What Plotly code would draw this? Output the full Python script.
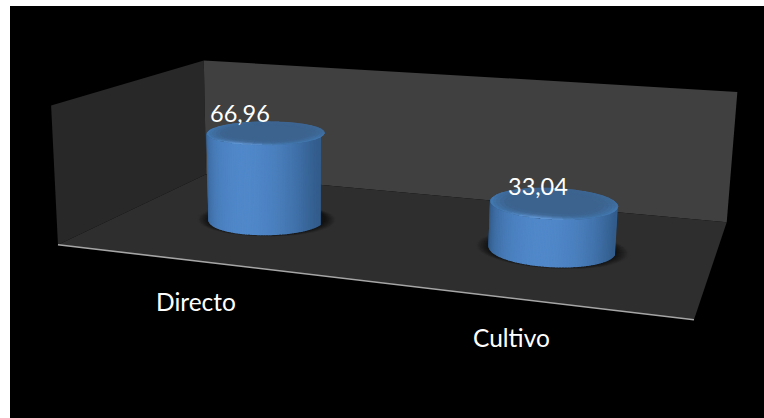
import numpy as np
import plotly.graph_objects as go

# ---- chart data ----
categories = ["Directo", "Cultivo"]
values = [66.96, 33.04]
value_labels = ["66,96", "33,04"]
axis_max = 100.0

# ---- label offsets in pixels ----
value_dx = [-26, -16]
value_dy = [20, 17]
cat_dx = [-1, -1]
cat_dy = [-40, -39]

# ---- 3D box -> page projection (fitted on the box corners of the picture) ----
box_world = [(0,0,1),(0,1,1),(0,1,0),(0,0,0),(1,1,1),(1,1,0),(1,0,0)]
box_page = [(50,106),(205,60),(205,175),(59,244),(737,92),(727,222),(694,320)]

def fit_camera(world, page):
    A = []
    for (x,y,z),(u,v) in zip(world,page):
        A.append([x,y,z,1,0,0,0,0,-u*x,-u*y,-u*z,-u])
        A.append([0,0,0,0,x,y,z,1,-v*x,-v*y,-v*z,-v])
    return np.linalg.svd(np.array(A,float))[2][-1].reshape(3,4)

P = fit_camera(box_world, box_page)

def pr(x,y,z):
    q = P @ np.array([x,y,z,1.0])
    return q[0]/q[2], q[1]/q[2]

fig = go.Figure()

def poly(points, color, lw=1.0):
    xs = [p[0] for p in points]+[points[0][0]]
    ys = [p[1] for p in points]+[points[0][1]]
    fig.add_trace(go.Scatter(x=xs,y=ys,mode="lines",fill="toself",fillcolor=color,
                             line=dict(color=color,width=lw),hoverinfo="skip",showlegend=False))

def rgb(c):
    return "rgb(%d,%d,%d)"%tuple(int(round(v)) for v in c)

def mix(a,b,t):
    return tuple(a[i]+(b[i]-a[i])*t for i in range(3))

# walls and floor
LEFT, BACK, FLOOR = (40,40,40),(64,64,64),(46,46,46)
poly([pr(0,0,0),pr(0,1,0),pr(0,1,1),pr(0,0,1)], rgb(LEFT), 0)
poly([pr(0,1,0),pr(1,1,0),pr(1,1,1),pr(0,1,1)], rgb(BACK), 0)
poly([pr(0,0,0),pr(1,0,0),pr(1,1,0),pr(0,1,0)], rgb(FLOOR), 0)
a,b = pr(0,0,0),pr(1,0,0)
fig.add_trace(go.Scatter(x=[a[0],b[0]],y=[a[1],b[1]],mode="lines",line=dict(color="#a6a6a6",width=1.6),
                         hoverinfo="skip",showlegend=False))

# cylinders
RX, RY, CY0 = 0.1, 0.185, 0.5
EDGE, MID = (42,80,122),(80,136,202)
TOP = (60,99,142)
n = 72
th = np.linspace(0,2*np.pi,n+1)
side = np.linspace(np.pi,2*np.pi,73)

def rim_color(t):
    s = np.sin(t)
    if s < 0:
        return mix((66,120,176),(104,160,226),(-s)**10)
    return mix((66,120,176),(61,102,147),s**0.6)

for i,v in enumerate(values):
    cx = (i+0.5)/len(values)
    h = v/axis_max
    # floor shadow
    for k in range(14,0,-1):
        f = k/14
        col = mix((16,16,16),FLOOR,f**1.1)
        poly([pr(cx+RX*(1+.22*f)*np.cos(t),CY0+RY*(1+.10*f)*np.sin(t),0) for t in th[:-1]],rgb(col),0)
    # side, back to front, left/right meet at the front
    for j in range(len(side)-1):
        t0,t1 = side[j],side[j+1]
        u = np.cos((t0+t1)/2)
        col = mix(EDGE,MID,(1-min(1,abs(u-0.04))**2)**0.6)
        poly([pr(cx+RX*np.cos(t0),CY0+RY*np.sin(t0),0),pr(cx+RX*np.cos(t1),CY0+RY*np.sin(t1),0),
              pr(cx+RX*np.cos(t1),CY0+RY*np.sin(t1),h),pr(cx+RX*np.cos(t0),CY0+RY*np.sin(t0),h)],rgb(col),1.4)
    # top: solid disc, then rim rings fading to the flat colour
    poly([pr(cx+RX*np.cos(t),CY0+RY*np.sin(t),h) for t in th[:-1]],rgb(TOP))
    rings = [1.0,0.96,0.91,0.85,0.78,0.70]
    for r in range(len(rings)-1):
        fade = (1-r/(len(rings)-1))**1.5
        for j in range(0,n,2):
            t0,t1 = th[j],th[j+2]
            col = mix(TOP,rim_color((t0+t1)/2),fade)
            ro,ri = rings[r],rings[r+1]
            poly([pr(cx+RX*ro*np.cos(t0),CY0+RY*ro*np.sin(t0),h),pr(cx+RX*ro*np.cos(t1),CY0+RY*ro*np.sin(t1),h),
                  pr(cx+RX*ri*np.cos(t1),CY0+RY*ri*np.sin(t1),h),pr(cx+RX*ri*np.cos(t0),CY0+RY*ri*np.sin(t0),h)],rgb(col),0.8)

# labels
anns = []
for i,(c,v,l) in enumerate(zip(categories,values,value_labels)):
    cx = (i+0.5)/len(values)
    tx,ty = pr(cx,CY0,v/axis_max)
    anns.append(dict(x=tx,y=ty,text=l,showarrow=False,xshift=value_dx[i],yshift=value_dy[i],
                     font=dict(family="Lato",size=23.5,color="white")))
    fx,fy = pr(cx,0,0)
    anns.append(dict(x=fx,y=fy,text=c,showarrow=False,xshift=cat_dx[i],yshift=cat_dy[i],
                     font=dict(family="Lato",size=24.5,color="white")))

fig.update_layout(width=764,height=418,autosize=False,margin=dict(l=10,r=0,t=6,b=0),
                  paper_bgcolor="white",plot_bgcolor="black",showlegend=False,annotations=anns,
                  xaxis=dict(range=[10,764],visible=False,fixedrange=True),
                  yaxis=dict(range=[418,6],visible=False,fixedrange=True))
fig.write_html("out.html",config=dict(displayModeBar=False),
               post_script="document.body.style.margin='0';document.documentElement.style.overflow='hidden';")
